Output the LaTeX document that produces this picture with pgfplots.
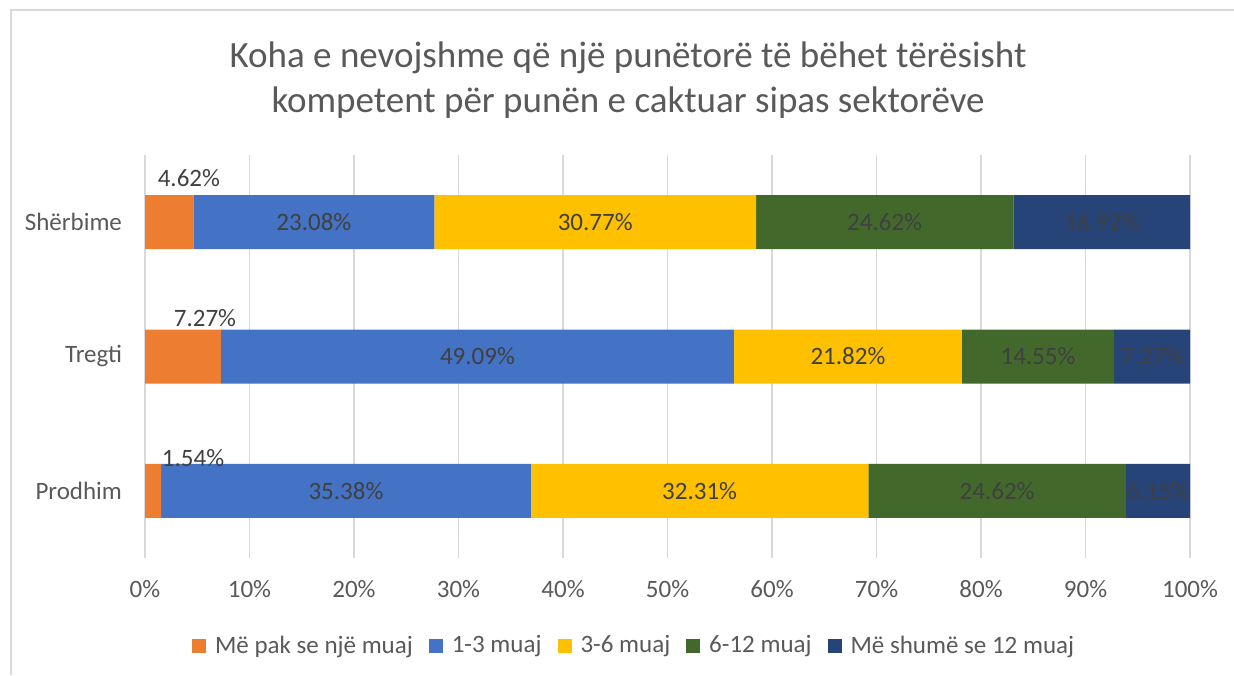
\documentclass[border=0pt]{standalone}
\usepackage{pgfplots}
\pgfplotsset{compat=1.18}
\usepackage{fontspec}
\setmainfont{Carlito}
\definecolor{cOr}{HTML}{ED7D31}
\definecolor{cBl}{HTML}{4472C4}
\definecolor{cYe}{HTML}{FFC000}
\definecolor{cGr}{HTML}{43682B}
\definecolor{cNa}{HTML}{264478}
\definecolor{cGrid}{HTML}{D9D9D9}
\definecolor{cTxt}{HTML}{595959}
\definecolor{cLab}{HTML}{404040}
\begin{document}
\begin{tikzpicture}
\path[use as bounding box] (0pt,0pt) rectangle (617pt,337.5pt);
\draw[cGrid, line width=0.75pt] (5.5pt,0pt) -- (5.5pt,332.5pt) -- (617pt,332.5pt);
\node[text=cTxt, align=center, font=\fontsize{18.5}{22.5}\selectfont] at (314pt,297.5pt) {Koha e nevojshme që një punëtorë të bëhet tërësisht\\kompetent për punën e caktuar sipas sektorëve};
\begin{axis}[
  at={(72.5pt,58.5pt)}, anchor=south west,
  scale only axis, width=522.5pt, height=201.5pt,
  xbar stacked, bar width=27pt,
  xmin=0, xmax=100, ymin=-0.5, ymax=2.5,
  ytick={0,1,2}, yticklabels={Prodhim,Tregti,Shërbime},
  xtick={0,10,...,100},
  xticklabels={0\%,10\%,20\%,30\%,40\%,50\%,60\%,70\%,80\%,90\%,100\%},
  xmajorgrids=true, ymajorgrids=false,
  major grid style={draw=cGrid, line width=0.75pt},
  axis line style={draw=none}, major tick length=0pt,
  tick label style={text=cTxt, font=\fontsize{12.5}{14}\selectfont},
  xticklabel style={yshift=-7.5pt},
  yticklabel style={xshift=-8pt},
  legend columns=5,
  legend style={draw=none, fill=none, at={(0.469,-0.218)}, anchor=center,
    font=\fontsize{12.5}{14}\selectfont, text=cTxt,
    /tikz/every odd column/.append style={column sep=2.5pt},
    /tikz/every even column/.append style={column sep=6pt}},
  legend image code/.code={\fill[#1] (0pt,-3.5pt) rectangle (7pt,3.5pt);},
]
\addplot[fill=cOr, draw=none] coordinates {(1.54,0) (7.27,1) (4.62,2)};
\addlegendentry{Më pak se një muaj}
\addplot[fill=cBl, draw=none] coordinates {(35.38,0) (49.09,1) (23.08,2)};
\addlegendentry{1-3 muaj}
\addplot[fill=cYe, draw=none] coordinates {(32.31,0) (21.82,1) (30.77,2)};
\addlegendentry{3-6 muaj}
\addplot[fill=cGr, draw=none] coordinates {(24.62,0) (14.55,1) (24.62,2)};
\addlegendentry{6-12 muaj}
\addplot[fill=cNa, draw=none] coordinates {(6.15,0) (7.27,1) (16.92,2)};
\addlegendentry{Më shumë se 12 muaj}
\coordinate (s2) at (axis cs:16.16,2);
\coordinate (s3) at (axis cs:43.085,2);
\coordinate (s4) at (axis cs:70.78,2);
\coordinate (s5) at (axis cs:91.55,2);
\coordinate (t2) at (axis cs:31.815,1);
\coordinate (t3) at (axis cs:67.27,1);
\coordinate (t4) at (axis cs:85.455,1);
\coordinate (t5) at (axis cs:96.365,1);
\coordinate (p2) at (axis cs:19.23,0);
\coordinate (p3) at (axis cs:53.075,0);
\coordinate (p4) at (axis cs:81.54,0);
\coordinate (p5) at (axis cs:96.925,0);
\coordinate (s1) at (axis cs:4.2,2.329);
\coordinate (t1) at (axis cs:5.74,1.287);
\coordinate (p1) at (axis cs:4.6,0.244);
\end{axis}
\begin{scope}[every node/.style={text=cLab, font=\fontsize{12.5}{14}\selectfont}]
\node at (s1) {4.62\%};
\node at (s2) {23.08\%};
\node at (s3) {30.77\%};
\node at (s4) {24.62\%};
\node at (s5) {16.92\%};
\node at (t1) {7.27\%};
\node at (t2) {49.09\%};
\node at (t3) {21.82\%};
\node at (t4) {14.55\%};
\node at (t5) {7.27\%};
\node at (p1) {1.54\%};
\node at (p2) {35.38\%};
\node at (p3) {32.31\%};
\node at (p4) {24.62\%};
\node at (p5) {6.15\%};
\end{scope}
\end{tikzpicture}
\end{document}
